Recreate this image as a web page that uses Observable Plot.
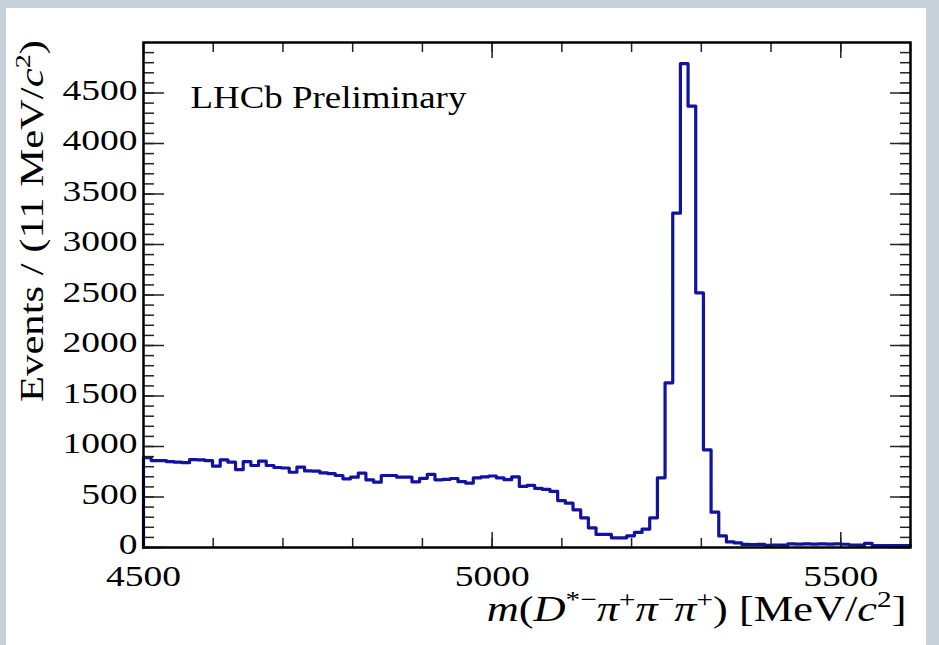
<!DOCTYPE html>
<html>
<head>
<meta charset="utf-8">
<script src="https://cdn.jsdelivr.net/npm/d3@7"></script>
<script src="https://cdn.jsdelivr.net/npm/@observablehq/plot@0.6"></script>
<style>
html, body { margin: 0; padding: 0; width: 939px; height: 645px; overflow: hidden; background: #c6d1d9; }
#panel { position: absolute; left: 6px; top: 8px; width: 920px; height: 637px; background: #ffffff; }
#chart { position: absolute; left: 0; top: 0; }
</style>
</head>
<body>
<div id="panel"></div>
<div id="chart"></div>
<script>
// ---- data ----
const binStart = 4500;   // MeV/c^2, left edge of first bin
const binWidth = 11;     // MeV/c^2
const counts = [
  890, 861, 861, 850, 845, 840, 870, 868, 860, 805,
  868, 845, 772, 851, 812, 856, 812, 792, 787, 745,
  795, 758, 756, 738, 732, 713, 680, 696, 736, 670,
  647, 713, 713, 696, 696, 650, 685, 725, 670, 675,
  683, 652, 638, 690, 700, 708, 690, 672, 700, 605,
  615, 585, 575, 555, 465, 439, 373, 294, 195, 129,
  129, 96, 96, 116, 149, 181, 294, 690, 1630, 3310,
  4790, 4370, 2522, 967, 350, 115, 55, 45, 30, 28,
  30, 22, 25, 24, 35, 33, 36, 34, 35, 33,
  35, 32, 25, 24, 40, 20, 18, 20, 19, 18
];
const xLabelTicks = [4500, 5000, 5500];
const xMinorTicks = [4500, 4600, 4700, 4800, 4900, 5000, 5100, 5200, 5300, 5400, 5500, 5600];
const yLabelTicks = [0, 500, 1000, 1500, 2000, 2500, 3000, 3500, 4000, 4500];
const yMinorTicks = [0, 100, 200, 300, 400, 500, 600, 700, 800, 900, 1000, 1100, 1200, 1300, 1400,
  1500, 1600, 1700, 1800, 1900, 2000, 2100, 2200, 2300, 2400, 2500, 2600, 2700, 2800, 2900, 3000,
  3100, 3200, 3300, 3400, 3500, 3600, 3700, 3800, 3900, 4000, 4100, 4200, 4300, 4400, 4500, 4600,
  4700, 4800, 4900];
const watermark = "LHCb Preliminary";
const xTitleParts = [
  {t: "m", i: true}, {t: "("}, {t: "D", i: true}, {t: "*\u2212", s: true},
  {t: "\u03c0", i: true}, {t: "+", s: true}, {t: "\u03c0", i: true}, {t: "\u2212", s: true},
  {t: "\u03c0", i: true}, {t: "+", s: true}, {t: ") [MeV/"}, {t: "c", i: true}, {t: "2", s: true}, {t: "]"}
];
const yTitleParts = [
  {t: "Events / (11 MeV/"}, {t: "c", i: true}, {t: "2", s: true}, {t: ")"}
];
const plain = parts => parts.map(p => p.t).join("");
const xTitle = plain(xTitleParts);
const yTitle = plain(yTitleParts);

// histogram outline table built from the arrays
const outline = [{x: binStart, y: 0}]
  .concat(counts.map((c, i) => ({x: binStart + i * binWidth, y: c})))
  .concat([{x: binStart + counts.length * binWidth, y: counts[counts.length - 1]}]);

const tickStyle = {stroke: "#222", strokeWidth: 1.5, label: null, tickFormat: () => ""};

const plot = Plot.plot({
  width: 939,
  height: 645,
  marginLeft: 143,
  marginRight: 29,
  marginTop: 42,
  marginBottom: 98,
  style: {background: "transparent", fontFamily: "'Liberation Serif', 'Times New Roman', serif", color: "#000"},
  x: {domain: [4500, 5600]},
  y: {domain: [0, 5000]},
  marks: [
    Plot.line(outline, {x: "x", y: "y", curve: "step-after", stroke: "#1212a0", strokeWidth: 3.2}),
    Plot.axisX(xMinorTicks, {anchor: "bottom", tickSize: -9, ...tickStyle}),
    Plot.axisX(xLabelTicks, {anchor: "bottom", tickSize: -15, ...tickStyle}),
    Plot.axisX(xMinorTicks, {anchor: "top", tickSize: -9, ...tickStyle}),
    Plot.axisX(xLabelTicks, {anchor: "top", tickSize: -15, ...tickStyle}),
    Plot.axisX(xLabelTicks, {anchor: "bottom", tickSize: 0, tickPadding: 17, fontSize: 30, label: null, tickFormat: d => String(d)}),
    Plot.axisY(yMinorTicks, {anchor: "left", tickSize: -11, ...tickStyle}),
    Plot.axisY(yLabelTicks, {anchor: "left", tickSize: -21, ...tickStyle}),
    Plot.axisY(yMinorTicks, {anchor: "right", tickSize: -11, ...tickStyle}),
    Plot.axisY(yLabelTicks, {anchor: "right", tickSize: -21, ...tickStyle}),
    Plot.axisY(yLabelTicks, {anchor: "left", tickSize: 0, tickPadding: 6, dy: -3, fontSize: 30, label: null, tickFormat: d => String(d)}),
    Plot.text([watermark], {frameAnchor: "top-left", dx: 47, dy: 55, textAnchor: "start", lineAnchor: "middle", fontSize: 32, fill: "#000"}),
    Plot.text([xTitle], {frameAnchor: "bottom-right", dx: -4, dy: 73, textAnchor: "end", lineAnchor: "bottom", fontSize: 35, fill: "#000"}),
    Plot.text([yTitle], {frameAnchor: "left", dx: -111, dy: -74, rotate: -90, textAnchor: "middle", lineAnchor: "middle", fontSize: 33, fill: "#000"}),
    Plot.frame({stroke: "#000", strokeWidth: 2.5})
  ]
});
document.getElementById("chart").appendChild(plot);

// rich text (italics, superscripts) and horizontal stretch like the reference
const NS = "http://www.w3.org/2000/svg";
function rich(el, parts, fs) {
  el.textContent = "";
  let up = false;
  for (const p of parts) {
    const ts = document.createElementNS(NS, "tspan");
    ts.textContent = p.t;
    if (p.i) ts.setAttribute("font-style", "italic");
    if (p.s) {
      ts.setAttribute("font-size", (0.66 * fs).toFixed(1));
      if (!up) { ts.setAttribute("dy", (-0.40 * fs).toFixed(1)); up = true; }
    } else if (up) {
      ts.setAttribute("dy", (0.40 * fs).toFixed(1)); up = false;
    }
    el.appendChild(ts);
  }
}
function stretch(el, s) {
  el.setAttribute("transform", (el.getAttribute("transform") || "") + ` scale(${s.toFixed(3)},1)`);
}
function stretchTo(el, target) {
  const w = el.getComputedTextLength();
  if (w > 0) stretch(el, target / w);
}
d3.select(plot).selectAll("text").each(function () {
  const s = this.textContent;
  if (s === xTitle) { rich(this, xTitleParts, 35); stretchTo(this, 420); }
  else if (s === yTitle) { rich(this, yTitleParts, 33); stretchTo(this, 362); }
  else if (s === watermark) { stretchTo(this, 276); }
  else if (/^\d+$/.test(s)) { stretch(this, 1.25); }
});
</script>
</body>
</html>
